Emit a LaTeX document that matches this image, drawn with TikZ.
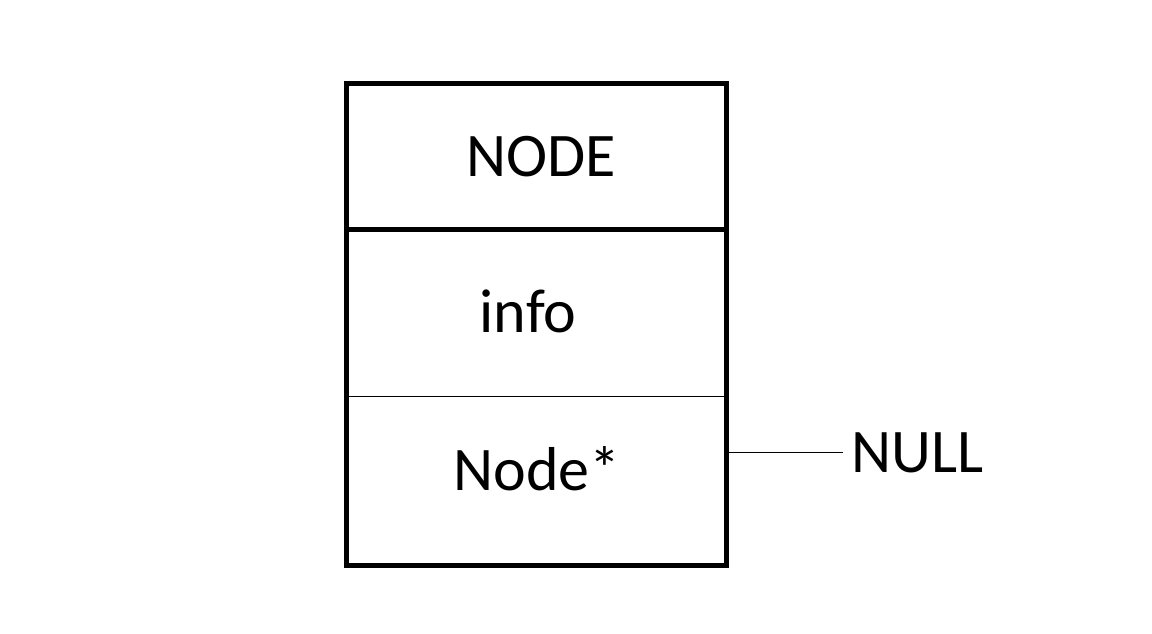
\documentclass[tikz,border=0pt]{standalone}
\usepackage{fontspec}
\setmainfont{Carlito}
\begin{document}
\begin{tikzpicture}[x=1pt,y=-1pt,
  label text/.style={inner sep=0pt, anchor=base, font=\fontsize{62}{74}\selectfont},
  heavy/.style={line width=5pt},
  light/.style={line width=1pt}]
  \useasboundingbox[fill=white] (0,0) rectangle (1152,633);

  % record box holding the three fields
  \node[draw, heavy, outer sep=0pt, minimum width=379.5pt, minimum height=482pt,
        inner sep=0pt] (box) at (536.25,324) {};

  % field separators
  \coordinate (sepA) at (0,229.3);
  \coordinate (sepB) at (0,396);
  \draw[heavy] (box.west |- sepA) -- (box.east |- sepA);
  \draw[light] (box.west |- sepB) -- (box.east |- sepB);

  % field labels
  \node[label text] (title) at (541.5,176.7) {NODE};
  \node[label text] (info) at (528,332.7) {info};
  \node[label text] (next) at (537,490) {Node*};

  % null pointer
  \node[label text, anchor=base west, inner xsep=8pt] (null) at (843,472.7) {NULL};
  \coordinate (ptr) at (843,452.3);
  \draw[light] (box.east |- ptr) -- (ptr);
\end{tikzpicture}
\end{document}
